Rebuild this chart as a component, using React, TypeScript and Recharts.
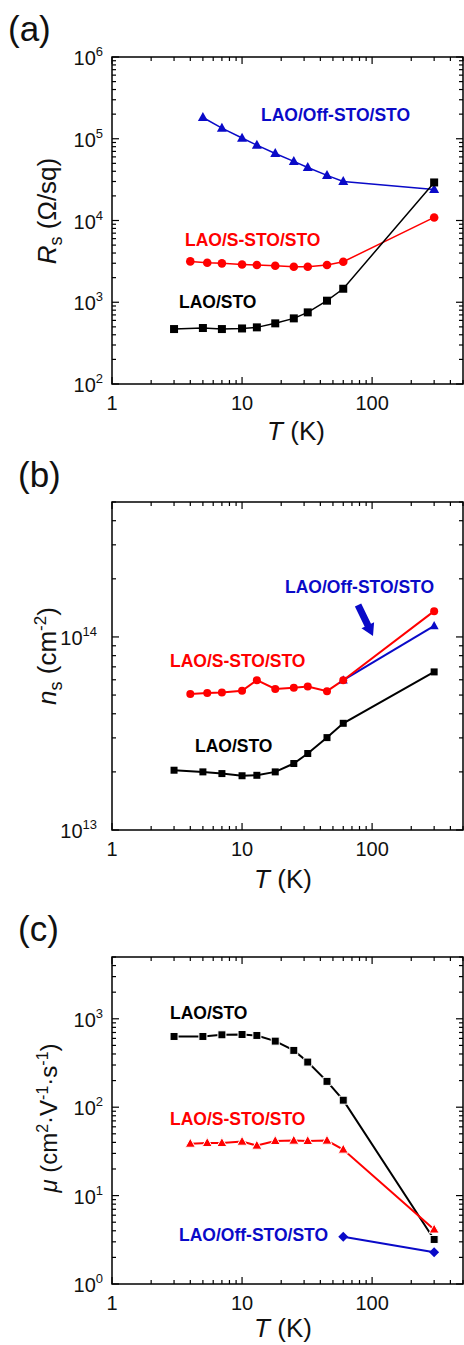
import { LineChart, Line, XAxis, YAxis } from "recharts";

const FONT = '"Liberation Sans", Arial, Helvetica, sans-serif';
const BLACK = "#000000";
const RED = "#ff0000";
const BLUE = "#0a0ac8";

// temperatures (K)
const T_LAO = [3, 5, 7, 10, 13, 18, 25, 32, 45, 60, 300];
const T_SSTO = [4, 5.4, 7, 10, 13, 18, 25, 32, 45, 60, 300];
const T_OFF_A = [5, 7, 10, 13, 18, 25, 32, 45, 60, 300];
const T_OFF_BC = [60, 300];

// (a) sheet resistance, Ohm/sq
const RS_LAO = [470, 484, 470, 478, 493, 552, 635, 752, 1045, 1463, 29200];
const RS_SSTO = [3160, 3040, 2990, 2900, 2850, 2800, 2720, 2720, 2850, 3130, 10900];
const RS_OFF = [182000, 135000, 102000, 83400, 66000, 52800, 44500, 35600, 30000, 24000];

// (b) carrier density, cm^-2
const NS_LAO = [2.04e13, 2.0e13, 1.96e13, 1.91e13, 1.92e13, 2.0e13, 2.21e13, 2.49e13, 3.01e13, 3.57e13, 6.59e13];
const NS_SSTO = [5.07e13, 5.12e13, 5.16e13, 5.26e13, 5.97e13, 5.38e13, 5.45e13, 5.53e13, 5.24e13, 5.97e13, 1.36e14];
const NS_OFF = [5.97e13, 1.14e14];

// (c) mobility, cm2/Vs
const MU_LAO = [631, 631, 659, 664, 648, 559, 439, 324, 196, 120, 3.19];
const MU_SSTO = [38.7, 39.4, 39.4, 40.8, 36.8, 41.5, 41.9, 41.5, 41.9, 33.2, 4.14];
const MU_OFF = [3.42, 2.28];

// tick values
const T_TICKS = [1, 2, 3, 4, 5, 6, 7, 8, 9, 10, 20, 30, 40, 50, 60, 70, 80, 90, 100, 200, 300, 400, 500];
const decades = (lo: number, hi: number, last: number) => {
  const out: number[] = [];
  for (let e = lo; e <= hi; e++) {
    for (let m = 1; m <= 9; m++) {
      const v = m * Math.pow(10, e);
      if (v <= last * 1.0001) out.push(v);
    }
  }
  return out;
};
const RS_TICKS = decades(2, 6, 1e6);
const NS_TICKS = decades(13, 14, 5e14);
const MU_TICKS = decades(0, 3, 5e3);

const pts = (xs: number[], ys: number[]) => xs.map((T, i) => ({ T, v: ys[i] }));

const isDecade = (v: number) => Math.abs(Math.log10(v) - Math.round(Math.log10(v))) < 1e-6;

// markers
const square = (s: number, fill: string, edge = "none") => (p: any) =>
  p.cx == null ? <g key={p.index} /> : (
    <rect key={p.index} x={p.cx - s / 2} y={p.cy - s / 2} width={s} height={s} fill={fill} stroke={edge} strokeWidth={1} />
  );
const circle = (r: number, fill: string) => (p: any) =>
  p.cx == null ? <g key={p.index} /> : <circle key={p.index} cx={p.cx} cy={p.cy} r={r} fill={fill} />;
const triangle = (s: number, fill: string, edge = "none") => (p: any) => {
  if (p.cx == null) return <g key={p.index} />;
  const h = s * 0.9;
  return (
    <polygon
      key={p.index}
      points={`${p.cx},${p.cy - h * 0.6} ${p.cx + s / 2},${p.cy + h * 0.4} ${p.cx - s / 2},${p.cy + h * 0.4}`}
      fill={fill}
      stroke={edge}
      strokeWidth={1}
    />
  );
};
const diamond = (s: number, fill: string) => (p: any) => {
  if (p.cx == null) return <g key={p.index} />;
  const r = s / 2;
  return (
    <polygon
      key={p.index}
      points={`${p.cx},${p.cy - r} ${p.cx + r},${p.cy} ${p.cx},${p.cy + r} ${p.cx - r},${p.cy}`}
      fill={fill}
    />
  );
};

type Geo = { top: number; right: number; labelGap: number };

const makeXTick = (g: Geo) => (props: any) => {
  const { x, y, payload } = props;
  const v = payload.value;
  const major = isDecade(v);
  const len = major ? 7 : 4;
  return (
    <g>
      <line x1={x} x2={x} y1={y} y2={y - len} stroke="#000" strokeWidth={1.2} />
      <line x1={x} x2={x} y1={g.top} y2={g.top + len} stroke="#000" strokeWidth={1.2} />
      {major && (
        <text x={x} y={y + 26} textAnchor="middle" fontSize={20} fontFamily={FONT} fill="#111">
          {v}
        </text>
      )}
    </g>
  );
};

const makeYTick = (g: Geo) => (props: any) => {
  const { x, y, payload } = props;
  const v = payload.value;
  const major = isDecade(v);
  const len = major ? 7 : 4;
  return (
    <g>
      <line x1={x} x2={x + len} y1={y} y2={y} stroke="#000" strokeWidth={1.2} />
      <line x1={g.right} x2={g.right - len} y1={y} y2={y} stroke="#000" strokeWidth={1.2} />
      {major && (
        <text x={x - g.labelGap} y={y + 8} textAnchor="end" fontSize={20} fontFamily={FONT} fill="#111">
          10
          <tspan dy={-9} fontSize={13}>
            {Math.round(Math.log10(v))}
          </tspan>
        </text>
      )}
    </g>
  );
};

type SeriesDef = { data: { T: number; v: number }[]; color: string; width: number; dot: any };

const Panel = ({
  top,
  height,
  plotTop,
  plotBottom,
  yDomain,
  yTicks,
  labelGap,
  series,
}: {
  top: number;
  height: number;
  plotTop: number;
  plotBottom: number;
  yDomain: [number, number];
  yTicks: number[];
  labelGap: number;
  series: SeriesDef[];
}) => {
  const mTop = plotTop - top;
  const xH = height - (plotBottom - top);
  const g = { top: mTop, right: 463, labelGap };
  return (
    <div style={{ position: "absolute", left: 0, top, width: 464, height }}>
      <LineChart width={464} height={height} margin={{ top: mTop, right: 1, left: 0, bottom: 0 }}>
        <XAxis
          dataKey="T"
          type="number"
          scale="log"
          domain={[1, 500]}
          ticks={T_TICKS}
          interval={0}
          allowDataOverflow
          axisLine={false}
          tickLine={false}
          tickSize={0}
          tickMargin={0}
          height={xH}
          tick={makeXTick(g)}
        />
        <YAxis
          type="number"
          scale="log"
          domain={yDomain}
          ticks={yTicks}
          interval={0}
          allowDataOverflow
          axisLine={false}
          tickLine={false}
          tickSize={0}
          tickMargin={0}
          width={112}
          tick={makeYTick(g)}
        />
        {series.map((s, i) => (
          <Line
            key={i}
            data={s.data}
            dataKey="v"
            type="linear"
            stroke={s.color}
            strokeWidth={s.width}
            dot={s.dot}
            activeDot={false}
            isAnimationActive={false}
          />
        ))}
      </LineChart>
    </div>
  );
};

const bold = { fontFamily: FONT, fontWeight: 700, fontSize: 17.5 } as const;
const plain = { fontFamily: FONT, fill: "#111" } as const;

export default function App() {
  return (
    <div style={{ position: "absolute", left: 0, top: 0, width: 464, height: 1345, background: "#fff" }}>
      <Panel
        top={0}
        height={450}
        plotTop={57}
        plotBottom={384}
        yDomain={[1e2, 1e6]}
        yTicks={RS_TICKS}
        labelGap={9}
        series={[
          { data: pts(T_OFF_A, RS_OFF), color: BLUE, width: 1.5, dot: triangle(10, BLUE) },
          { data: pts(T_SSTO, RS_SSTO), color: RED, width: 1.5, dot: circle(4.3, RED) },
          { data: pts(T_LAO, RS_LAO), color: BLACK, width: 1.5, dot: square(8, BLACK) },
        ]}
      />
      <Panel
        top={450}
        height={450}
        plotTop={502}
        plotBottom={830}
        yDomain={[1e13, 5e14]}
        yTicks={NS_TICKS}
        labelGap={15}
        series={[
          { data: pts(T_LAO, NS_LAO), color: BLACK, width: 2, dot: square(7, BLACK) },
          { data: pts(T_OFF_BC, NS_OFF), color: BLUE, width: 2, dot: triangle(9, BLUE) },
          { data: pts(T_SSTO, NS_SSTO), color: RED, width: 2, dot: circle(4, RED) },
        ]}
      />
      <Panel
        top={900}
        height={445}
        plotTop={957}
        plotBottom={1284}
        yDomain={[1, 5e3]}
        yTicks={MU_TICKS}
        labelGap={9}
        series={[
          { data: pts(T_LAO, MU_LAO), color: BLACK, width: 2, dot: square(8, BLACK, "#fff") },
          { data: pts(T_SSTO, MU_SSTO), color: RED, width: 2, dot: triangle(10, RED, "#fff") },
          { data: pts(T_OFF_BC, MU_OFF), color: BLUE, width: 2, dot: diamond(10, BLUE) },
        ]}
      />
      <svg
        width={464}
        height={1345}
        style={{ position: "absolute", left: 0, top: 0, pointerEvents: "none" }}
      >
        {/* frames */}
        <rect x={112} y={57} width={351} height={327} fill="none" stroke="#000" strokeWidth={1.5} />
        <rect x={112} y={502} width={351} height={328} fill="none" stroke="#000" strokeWidth={1.5} />
        <rect x={112} y={957} width={351} height={327} fill="none" stroke="#000" strokeWidth={1.5} />

        {/* panel letters */}
        <text x={8} y={41} fontSize={35} {...plain}>(a)</text>
        <text x={18} y={487} fontSize={35} {...plain}>(b)</text>
        <text x={18} y={941} fontSize={35} {...plain}>(c)</text>

        {/* x titles */}
        <text x={296} y={440} fontSize={26} textAnchor="middle" {...plain}>
          <tspan fontStyle="italic">T</tspan> (K)
        </text>
        <text x={283} y={888} fontSize={26} textAnchor="middle" {...plain}>
          <tspan fontStyle="italic">T</tspan> (K)
        </text>
        <text x={283} y={1337} fontSize={26} textAnchor="middle" {...plain}>
          <tspan fontStyle="italic">T</tspan> (K)
        </text>

        {/* y titles */}
        <text transform="translate(56,211) rotate(-90)" textAnchor="middle" fontSize={26} {...plain}>
          <tspan fontStyle="italic">R</tspan>
          <tspan fontSize={18} dy={6}>s</tspan>
          <tspan dy={-6}> (Ω/sq)</tspan>
        </text>
        <text transform="translate(56,656) rotate(-90)" textAnchor="middle" fontSize={26} {...plain}>
          <tspan fontStyle="italic">n</tspan>
          <tspan fontSize={18} dy={6}>s</tspan>
          <tspan dy={-6}> (cm</tspan>
          <tspan fontSize={17} dy={-10}>-2</tspan>
          <tspan dy={10}>)</tspan>
        </text>
        <text transform="translate(57,1118) rotate(-90)" textAnchor="middle" fontSize={24} {...plain}>
          <tspan fontStyle="italic">μ</tspan>
          <tspan> (cm</tspan>
          <tspan fontSize={16} dy={-9}>2</tspan>
          <tspan dy={9}>·V</tspan>
          <tspan fontSize={16} dy={-9}>-1</tspan>
          <tspan dy={9}>·s</tspan>
          <tspan fontSize={16} dy={-9}>-1</tspan>
          <tspan dy={9}>)</tspan>
        </text>

        {/* series labels */}
        <text x={261} y={121} fill={BLUE} {...bold}>LAO/Off-STO/STO</text>
        <text x={185} y={246} fill={RED} {...bold}>LAO/S-STO/STO</text>
        <text x={179} y={308} fill={BLACK} {...bold}>LAO/STO</text>

        <text x={285} y={593} fill={BLUE} {...bold}>LAO/Off-STO/STO</text>
        <text x={170} y={667} fill={RED} {...bold}>LAO/S-STO/STO</text>
        <text x={195} y={752} fill={BLACK} {...bold}>LAO/STO</text>
        <polygon
          points="354.9,606.5 364.7,626.7 361.5,628.3 373,636 374.1,622.2 371,623.7 361.2,603.5"
          fill={BLUE}
        />

        <text x={170} y={1019} fill={BLACK} {...bold}>LAO/STO</text>
        <text x={170} y={1125} fill={RED} {...bold}>LAO/S-STO/STO</text>
        <text x={179} y={1241} fill={BLUE} {...bold}>LAO/Off-STO/STO</text>
      </svg>
    </div>
  );
}
